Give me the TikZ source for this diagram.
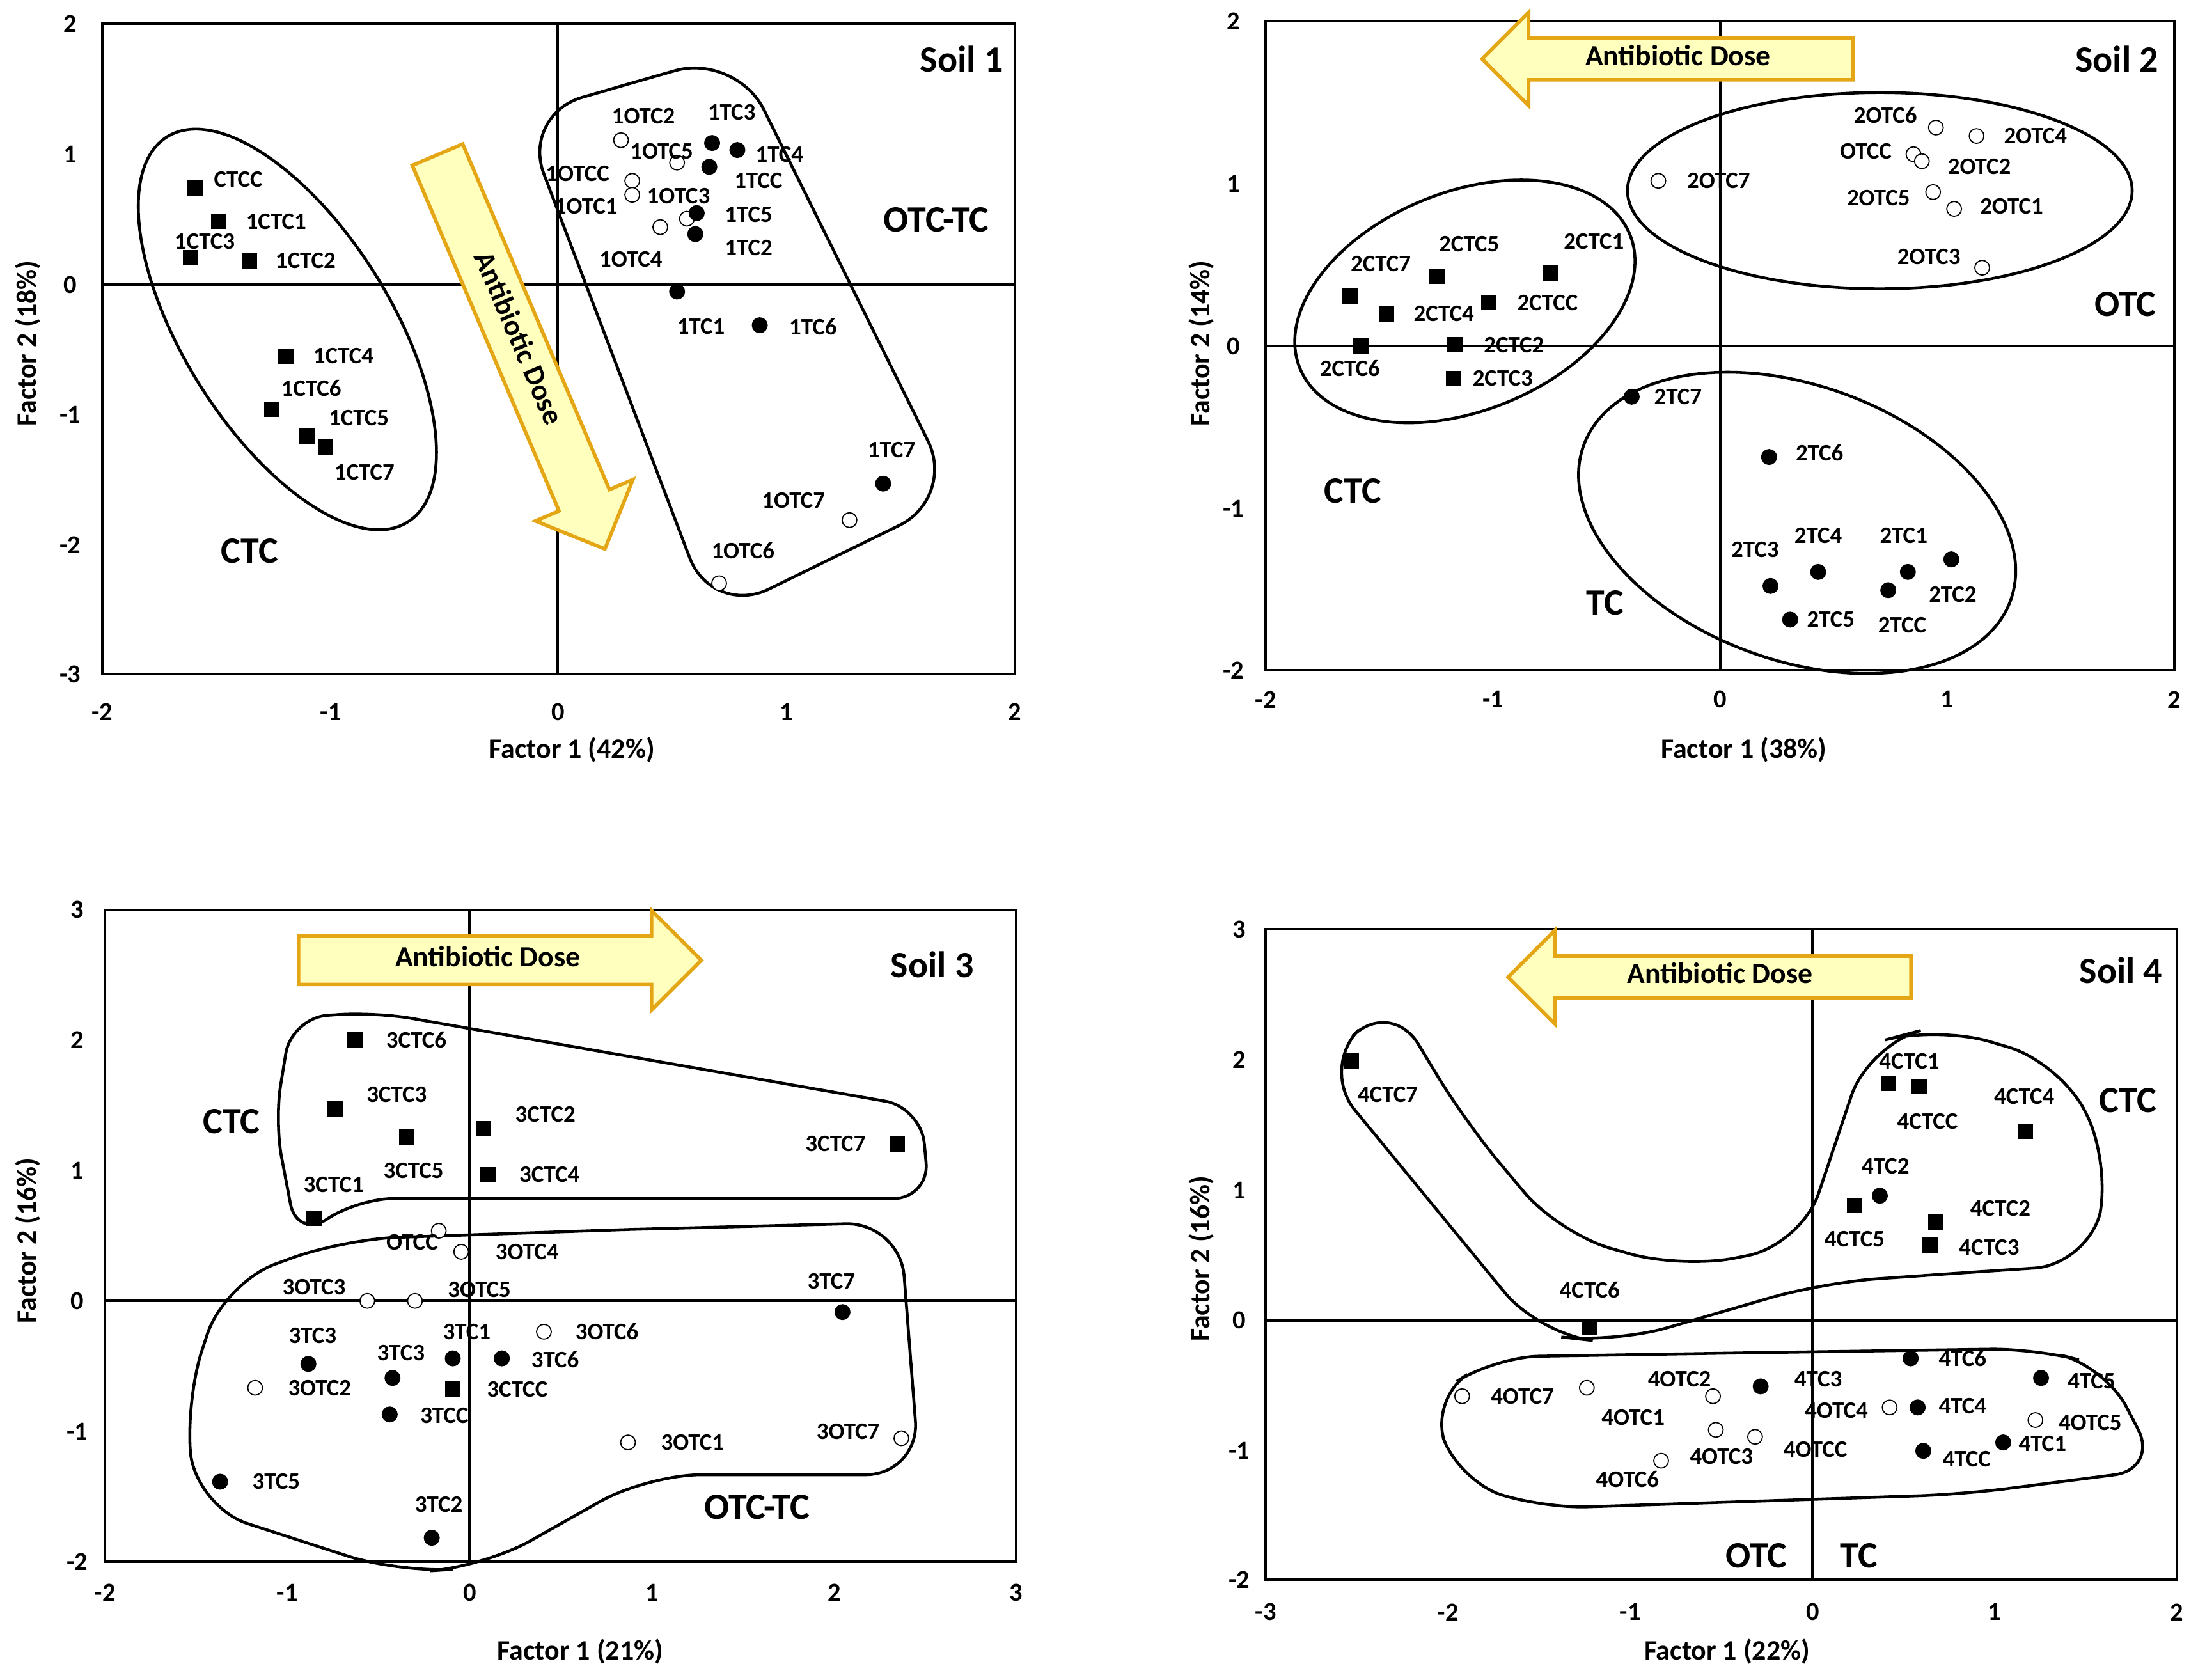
\documentclass[tikz,border=0pt]{standalone}
\usepackage{fontspec}
\setmainfont{Carlito}
\usetikzlibrary{shapes.arrows}
\newcounter{pt}
\newcommand\mk[4]{\stepcounter{pt}\edef\nm{\arabic{pt}}\node[#1] (m\nm) at (#2) {};\node[lab] (l\nm) at (#3) {#4};}
\newcommand\mkn[2]{\stepcounter{pt}\edef\nm{\arabic{pt}}\node[#1] (m\nm) at (#2) {};}
\newcommand\tx[3]{\stepcounter{pt}\edef\nm{\arabic{pt}}\node[#1] (t\nm) at (#2) {#3};}
\definecolor{ayel}{RGB}{255,255,190}
\definecolor{aor}{RGB}{228,166,20}
\tikzset{
 sq/.style={fill=black,minimum size=0.24cm,inner sep=0pt,rectangle},
 fc/.style={fill=black,circle,minimum size=0.25cm,inner sep=0pt},
 oc/.style={draw=black,fill=white,circle,minimum size=0.23cm,inner sep=0pt,line width=0.5pt},
 lab/.style={font=\fontsize{10.5}{12}\selectfont\bfseries,inner sep=0pt},
 big/.style={font=\fontsize{16.5}{18}\selectfont\bfseries,inner sep=0pt},
 tick/.style={font=\fontsize{11.5}{13}\selectfont\bfseries,inner sep=0pt},
 atl/.style={font=\fontsize{12.5}{14}\selectfont\bfseries,inner sep=0pt},
 box/.style={line width=1.1pt},
 grp/.style={line width=1.3pt},
 ar/.style={single arrow,draw=aor,fill=ayel,line width=1.6pt,font=\fontsize{13}{15}\selectfont\bfseries,inner sep=0pt,single arrow head extend=0.4cm}
}
\begin{document}
\begin{tikzpicture}[x=0.02192cm,y=-0.02192cm]
\useasboundingbox (0,0) rectangle (1568,1198);
% ---------- Panel 1
\draw[box] (73,17) rectangle (724,481);
\draw[box] (398,17)--(398,481) (73,203)--(724,203);
\foreach \v/\x in {-2/73,-1/236,0/398,1/561,2/724}{\tx{tick}{\x,508}{\v}}
\foreach \v/\y in {2/17,1/110,0/203,-1/296,-2/389,-3/481}{\tx{tick}{50,\y}{\v}}
\tx{atl}{408,535}{Factor 1 (42\%)}
\tx{atl,rotate=90}{20,245}{Factor 2 (18\%)}
\draw[grp,rotate around={-58:(205,235)}] (205,235) ellipse (162 and 74);
\draw[grp,rounded corners=28] (448,60)--(525,38)--(682,355)--(508,440)--(372,82)--(448,60);
\node[ar,rotate=-67,minimum height=6.7cm,text height=0.5cm,text depth=0.3cm] (a1) at (368,242) {Antibiotic Dose};
\mk{sq}{139,134}{170,128}{CTCC}
\mk{sq}{156,158}{197,158}{1CTC1}
\mk{sq}{136,184}{146,172}{1CTC3}
\mk{sq}{178,186}{218,186}{1CTC2}
\mk{sq}{204,254}{245,254}{1CTC4}
\mk{sq}{194,292}{222,277}{1CTC6}
\mk{sq}{219,311}{256,298}{1CTC5}
\mk{sq}{232,319}{260,337}{1CTC7}
\tx{big}{178,393}{CTC}
\mk{oc}{443,100}{459,83}{1OTC2}
\mk{fc}{508,102}{522,80}{1TC3}
\mk{fc}{526,107}{556,110}{1TC4}
\mk{oc}{483,116}{472,108}{1OTC5}
\mk{oc}{451,129}{412,124}{1OTCC}
\mk{oc}{451,139}{418,147}{1OTC1}
\mk{fc}{506,119}{541,129}{1TCC}
\mk{oc}{490,156}{484,140}{1OTC3}
\mk{fc}{497,152}{534,153}{1TC5}
\mkn{oc}{471,162}
\mk{fc}{496,167}{534,177}{1TC2}
\tx{lab}{450,185}{1OTC4}
\mk{fc}{483,208}{500,233}{1TC1}
\mk{fc}{542,232}{580,233}{1TC6}
\mk{fc}{630,345}{636,321}{1TC7}
\mk{oc}{606,371}{566,357}{1OTC7}
\mk{oc}{513,416}{530,393}{1OTC6}
\tx{big}{668,157}{OTC-TC}
\tx{big}{686,42}{Soil 1}
% ---------- Panel 2
\draw[box] (903,15) rectangle (1551,478);
\draw[box] (1227,15)--(1227,478) (903,247)--(1551,247);
\foreach \v/\x in {-2/903,-1/1065,0/1227,1/1389,2/1551}{\tx{tick}{\x,499}{\v}}
\foreach \v/\y in {2/15,1/131,0/247,-1/363,-2/478}{\tx{tick}{880,\y}{\v}}
\tx{atl}{1244,535}{Factor 1 (38\%)}
\tx{atl,rotate=90}{857,245}{Factor 2 (14\%)}
\draw[grp,rotate around={22:(1045,215)}] (1045,215) ellipse (127 and 78);
\draw[grp] (1341,136) ellipse (180 and 70);
\draw[grp,rotate around={-20:(1282,373)}] (1282,373) ellipse (162 and 98);
\node[ar,shape border rotate=180,minimum height=5.8cm,text height=0.4cm,text depth=0.2cm] (a2) at (1197,42) {Antibiotic Dose};
\mk{sq}{963,211}{985,188}{2CTC7}
\mk{sq}{989,224}{1030,224}{2CTC4}
\mk{sq}{971,247}{963,263}{2CTC6}
\mk{sq}{1025,197}{1048,174}{2CTC5}
\mk{sq}{1106,195}{1137,172}{2CTC1}
\mk{sq}{1062,216}{1104,216}{2CTCC}
\mk{sq}{1038,246}{1080,246}{2CTC2}
\mk{sq}{1037,270}{1072,270}{2CTC3}
\mk{fc}{1164,283}{1197,283}{2TC7}
\mk{fc}{1262,326}{1298,323}{2TC6}
\mk{oc}{1183,129}{1226,129}{2OTC7}
\mk{oc}{1381,91}{1345,82}{2OTC6}
\mk{oc}{1410,97}{1452,97}{2OTC4}
\mk{oc}{1365,110}{1331,108}{OTCC}
\mk{oc}{1371,115}{1412,119}{2OTC2}
\mk{oc}{1379,137}{1340,141}{2OTC5}
\mk{oc}{1394,149}{1435,147}{2OTC1}
\mk{oc}{1414,191}{1376,183}{2OTC3}
\mk{fc}{1263,418}{1252,392}{2TC3}
\mk{fc}{1297,408}{1297,382}{2TC4}
\mk{fc}{1361,408}{1358,382}{2TC1}
\mk{fc}{1392,399}{1393,424}{2TC2}
\mk{fc}{1347,421}{1357,446}{2TCC}
\mk{fc}{1277,442}{1306,442}{2TC5}
\tx{big}{965,350}{CTC}
\tx{big}{1145,430}{TC}
\tx{big}{1516,217}{OTC}
\tx{big}{1510,42}{Soil 2}
% ---------- Panel 3
\draw[box] (75,649) rectangle (725,1114);
\draw[box] (335,649)--(335,1114) (75,928)--(725,928);
\foreach \v/\x in {-2/75,-1/205,0/335,1/465,2/595,3/725}{\tx{tick}{\x,1136}{\v}}
\foreach \v/\y in {3/649,2/742,1/835,0/928,-1/1021,-2/1114}{\tx{tick}{55,\y}{\v}}
\tx{atl}{414,1178}{Factor 1 (21\%)}
\tx{atl,rotate=90}{20,885}{Factor 2 (16\%)}
\node[ar,minimum height=6.3cm,text height=0.45cm,text depth=0.25cm] (a3) at (348,685) {Antibiotic Dose};
\draw[grp,rounded corners=16] (400,855)--(255,855)--(212,884)--(196,800)--(208,726)--(268,722)--(657,790)--(663,855)--(400,855);
\draw[grp,rounded corners=24] (450,877)--(642,872)--(656,1052)--(462,1052)--(345,1118)--(285,1122)--(140,1075)--(132,1000)--(160,915)--(245,884)--(450,877);
\mk{sq}{253,742}{297,742}{3CTC6}
\mk{sq}{239,791}{283,781}{3CTC3}
\mk{sq}{290,811}{295,835}{3CTC5}
\mk{sq}{345,805}{389,795}{3CTC2}
\mk{sq}{348,838}{392,838}{3CTC4}
\mk{sq}{224,869}{238,845}{3CTC1}
\mk{sq}{640,816}{596,816}{3CTC7}
\mk{oc}{313,878}{294,886}{OTCC}
\mk{oc}{329,893}{376,893}{3OTC4}
\mk{oc}{262,928}{224,918}{3OTC3}
\mk{oc}{296,928}{342,920}{3OTC5}
\mk{oc}{388,950}{433,950}{3OTC6}
\mk{fc}{601,936}{593,914}{3TC7}
\mk{fc}{220,973}{223,953}{3TC3}
\mk{fc}{280,983}{286,965}{3TC3}
\mk{fc}{323,969}{333,950}{3TC1}
\mk{fc}{358,969}{396,970}{3TC6}
\mk{sq}{323,991}{369,991}{3CTCC}
\mk{oc}{182,990}{228,990}{3OTC2}
\mk{fc}{278,1009}{317,1010}{3TCC}
\mk{oc}{448,1029}{494,1029}{3OTC1}
\mk{oc}{643,1026}{605,1021}{3OTC7}
\mk{fc}{157,1057}{197,1057}{3TC5}
\mk{fc}{308,1097}{313,1073}{3TC2}
\tx{big}{165,800}{CTC}
\tx{big}{540,1075}{OTC-TC}
\tx{big}{665,688}{Soil 3}
% ---------- Panel 4
\draw[box] (903,663) rectangle (1553,1127);
\draw[box] (1293,663)--(1293,1127) (903,942)--(1553,942);
\foreach \v/\x in {-3/903,-2/1033,-1/1163,0/1293,1/1423,2/1553}{\tx{tick}{\x,1150}{\v}}
\foreach \v/\y in {3/663,2/756,1/849,0/942,-1/1035,-2/1127}{\tx{tick}{884,\y}{\v}}
\tx{atl}{1232,1178}{Factor 1 (22\%)}
\tx{atl,rotate=90}{857,898}{Factor 2 (16\%)}
\node[ar,shape border rotate=180,minimum height=6.3cm,text height=0.4cm,text depth=0.2cm] (a4) at (1227,697) {Antibiotic Dose};
\draw[grp,rounded corners=24] (1400,908)--(1300,915)--(1152,958)--(1098,952)--(942,762)--(992,712)--(1045,800)--(1112,880)--(1200,905)--(1285,888)--(1333,745)--(1382,732)--(1470,758)--(1506,830)--(1490,902)--(1400,908);
\draw[grp,rounded corners=20] (1250,965)--(1452,962)--(1502,975)--(1540,1048)--(1400,1066)--(1100,1076)--(1040,1056)--(1020,998)--(1066,968)--(1250,965);
\mk{sq}{964,757}{990,781}{4CTC7}
\mk{sq}{1347,773}{1362,757}{4CTC1}
\mk{sq}{1369,775}{1375,800}{4CTCC}
\mk{sq}{1445,807}{1444,782}{4CTC4}
\mk{fc}{1341,853}{1345,832}{4TC2}
\mk{sq}{1323,860}{1323,884}{4CTC5}
\mk{sq}{1381,872}{1427,862}{4CTC2}
\mk{sq}{1377,888}{1419,890}{4CTC3}
\mk{sq}{1134,947}{1134,920}{4CTC6}
\mk{fc}{1363,969}{1400,969}{4TC6}
\mk{fc}{1456,983}{1492,985}{4TC5}
\mk{oc}{1043,996}{1086,996}{4OTC7}
\mk{oc}{1132,990}{1198,984}{4OTC2}
\mkn{oc}{1222,996}
\mk{fc}{1256,989}{1297,984}{4TC3}
\mk{oc}{1348,1004}{1310,1006}{4OTC4}
\mk{fc}{1368,1004}{1400,1003}{4TC4}
\mk{oc}{1452,1013}{1491,1015}{4OTC5}
\tx{lab}{1165,1011}{4OTC1}
\mk{oc}{1224,1020}{1228,1039}{4OTC3}
\mk{oc}{1252,1025}{1295,1034}{4OTCC}
\mk{fc}{1429,1029}{1457,1030}{4TC1}
\mk{fc}{1372,1035}{1403,1041}{4TCC}
\mk{oc}{1185,1042}{1161,1055}{4OTC6}
\tx{big}{1518,785}{CTC}
\tx{big}{1253,1110}{OTC}
\tx{big}{1326,1110}{TC}
\tx{big}{1513,692}{Soil 4}
\end{tikzpicture}
\end{document}
